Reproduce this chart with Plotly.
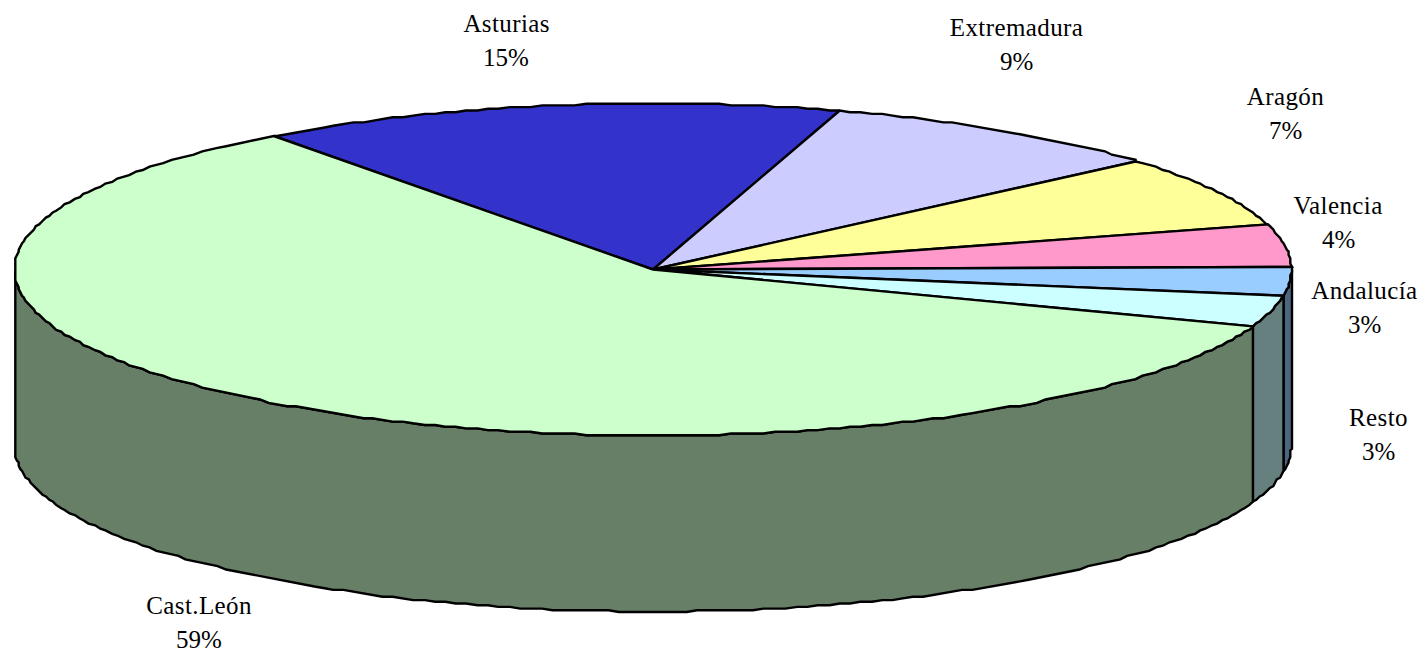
import numpy as np
import plotly.graph_objects as go

# --- data (clockwise from the top-left edge of the Asturias slice) ---
regions = ["Asturias", "Extremadura", "Aragón", "Valencia", "Andalucía", "Resto", "Cast.León"]
shares = [14.9, 8.9, 7.0, 4.1, 2.8, 3.0, 59.4]
top_colors = ["#3333CC", "#CCCCFF", "#FFFF99", "#FF99CC", "#99CCFF", "#CCFFFF", "#CCFFCC"]
side_colors = ["#1A1A66", "#66667F", "#7F7F4C", "#7F4C66", "#4C667F", "#667F7F", "#667F66"]

# --- projection of the tilted pie onto the page ---
CX, CY, RX, RY, DEPTH = 653.0, 269.5, 638.5, 166.0, 176.0
START = -36.5
GRID = 1.7   # coarse device grid that gives the outline its stepped look
STEP = 1.0   # angular sampling of the rim, shared by the top face and the walls


def rim(a_deg, drop=0.0):
    t = np.radians(a_deg)
    x = CX + RX * np.sin(t)
    y = CY - RY * np.cos(t) + drop
    return np.round(x / GRID) * GRID, np.round(y / GRID) * GRID


def arc(a0, a1):
    inner = np.arange(np.ceil(a0 / STEP + 1e-6), np.floor(a1 / STEP - 1e-6) + 1) * STEP
    return np.r_[a0, inner, a1]


fracs = np.array(shares) / sum(shares) * 360.0
edges = START + np.concatenate([[0], np.cumsum(fracs)])

fig = go.Figure()


def polygon(xs, ys, color):
    fig.add_trace(go.Scatter(
        x=list(xs), y=list(ys), mode="lines", fill="toself", fillcolor=color,
        line=dict(color="black", width=2.4), hoverinfo="skip", showlegend=False,
    ))


# walls: only the front half (90..270 degrees) of the rim is visible
for i in range(len(regions)):
    a0, a1 = max(edges[i], 90.0), min(edges[i + 1], 270.0)
    if a1 <= a0:
        continue
    ang = arc(a0, a1)
    x_top, y_top = rim(ang)
    x_bot, y_bot = rim(ang, DEPTH)
    polygon(np.r_[x_top, x_bot[::-1], x_top[0]], np.r_[y_top, y_bot[::-1], y_top[0]], side_colors[i])

# top face
for i in range(len(regions)):
    ang = arc(edges[i], edges[i + 1])
    x_r, y_r = rim(ang)
    polygon(np.r_[CX, x_r, CX], np.r_[CY, y_r, CY], top_colors[i])

# labels
label_x = [506, 1016, 1285, 1338, 1364, 1378, 199]
label_y = [23, 27, 96, 205, 290, 417, 605]
LINE_GAP = 34
font = dict(family="Liberation Serif", size=25, color="black")
for name, share, lx, ly in zip(regions, shares, label_x, label_y):
    fig.add_annotation(x=lx, y=ly, text=name, showarrow=False, font=font, xanchor="center", yanchor="middle")
    fig.add_annotation(x=lx, y=ly + LINE_GAP, text=f"{round(share)}%", showarrow=False, font=font,
                       xanchor="center", yanchor="middle")

fig.update_layout(
    width=1427, height=652, margin=dict(l=0, r=0, t=0, b=0),
    paper_bgcolor="white", plot_bgcolor="white", showlegend=False,
    xaxis=dict(range=[0, 1427], visible=False, fixedrange=True),
    yaxis=dict(range=[652, 0], visible=False, fixedrange=True),
)
post = """
document.body.style.margin = '0';
document.documentElement.style.overflow = 'hidden';
document.querySelectorAll('.annotation-text').forEach(function (e) {
  if (e.textContent.indexOf('%') < 0) { e.style.letterSpacing = '0.4px'; }
});
"""
fig.write_html("out.html", config={"displayModeBar": False}, post_script=post)
